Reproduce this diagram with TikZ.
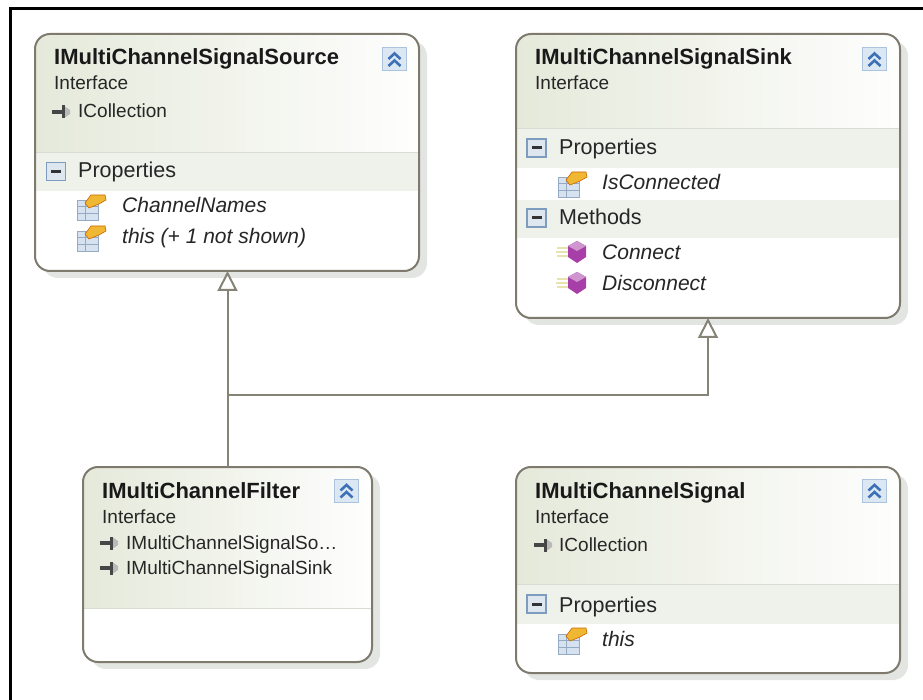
\documentclass[tikz,border=0pt]{standalone}
\usepackage{fontspec}
\setmainfont{Liberation Sans}
\usepackage{tikz}
\usetikzlibrary{arrows.meta,positioning}

\definecolor{boxc}{RGB}{126,123,110}
\definecolor{linec}{RGB}{134,131,119}
\definecolor{shadowc}{RGB}{227,229,227}
\definecolor{hdrc}{RGB}{229,233,218}
\definecolor{bandc}{RGB}{239,241,235}
\definecolor{sepc}{RGB}{216,219,210}
\definecolor{btnfill}{RGB}{219,231,243}
\definecolor{btnedge}{RGB}{170,196,222}
\definecolor{chevc}{RGB}{62,112,182}
\definecolor{minfill}{RGB}{222,231,240}
\definecolor{minedge}{RGB}{126,156,190}
\definecolor{tabfill}{RGB}{214,226,240}
\definecolor{tabline}{RGB}{150,170,195}
\definecolor{handc}{RGB}{240,184,50}
\definecolor{methc}{RGB}{168,62,168}
\definecolor{speedc}{RGB}{232,226,175}
\definecolor{implc}{RGB}{70,70,70}

\tikzset{
  boxline/.style={draw=boxc, line width=2pt, rounded corners=15pt, inner sep=0pt, outer sep=0pt},
  boxshadow/.style={fill=shadowc, rounded corners=15pt},
  header/.style={left color=hdrc, right color=white!96!hdrc},
  band/.style={fill=bandc},
  sepline/.style={draw=sepc, line width=1pt},
  title/.style={anchor=base west, inner sep=0pt, text=black!90, font=\fontsize{22}{24}\selectfont\bfseries},
  kind/.style={anchor=base west, inner sep=0pt, text=black!85, font=\fontsize{19}{22}\selectfont},
  group/.style={anchor=base west, inner sep=0pt, text=black!85, font=\fontsize{21.5}{24}\selectfont},
  member/.style={anchor=base west, inner sep=0pt, text=black!85, font=\fontsize{21}{24}\selectfont\itshape},
  implements/.style={draw=linec, line width=2pt, -{Triangle[width=20pt,length=20pt,fill=white]}},
  btncollapse/.pic={
    \fill[btnfill] (-12.5,-12) rectangle (12.5,12);
    \draw[btnedge, line width=1pt] (-12,-11.5) rectangle (12,11.5);
    \draw[chevc, line width=2.6pt] (-6,-0.5) -- (0,-6) -- (6,-0.5);
    \draw[chevc, line width=2.6pt] (-6,6.5) -- (0,1) -- (6,6.5);
  },
  minusbox/.pic={
    \fill[minfill, draw=minedge, line width=1.2pt] (-9.5,-9) rectangle (9.5,9);
    \fill[black!80] (-5,-1.5) rectangle (5,1.5);
  },
  propicon/.pic={
    \fill[tabfill, draw=tabline, line width=1pt] (-14,-6) rectangle (7,14);
    \draw[tabline, line width=1pt] (-14,0) -- (7,0) (-14,7) -- (7,7) (-6,-6) -- (-6,14);
    \fill[handc, draw=orange!80!black, line width=0.6pt] (-6,-4) -- (0,-12) -- (14,-12) -- (15,-7) -- (8,-3) -- (-2,1) -- cycle;
  },
  methicon/.pic={
    \draw[speedc, line width=2pt] (-15,-4) -- (-4,-4) (-16,0) -- (-4,0) (-15,4) -- (-4,4);
    \fill[methc] (5,-11) -- (14,-6) -- (14,5) -- (5,11) -- (-4,5) -- (-4,-6) -- cycle;
    \fill[methc!55] (5,-11) -- (14,-6) -- (5,-1) -- (-4,-6) -- cycle;
  },
  implicon/.pic={
    \draw[implc, line width=3.6pt] (-10,0) -- (1,0);
    \fill[implc] (0,-6.5) rectangle (3,6.5);
    \fill[gray!55] (3,-5.5) -- (8,-2) -- (8,2) -- (3,5.5) -- cycle;
  }
}

% shadow, white body and shaded header of one box
\newcommand{\boxback}[5]{%
  \fill[boxshadow] (#1+8,#2+7) rectangle (#3+8,#4+7);
  \begin{scope}
    \clip[rounded corners=15pt] (#1,#2) rectangle (#3,#4);
    \fill[white] (#1,#2) rectangle (#3,#4);
    \shade[header] (#1,#2) rectangle (#3,#5);
  \end{scope}
  \draw[sepline] (#1,#5) -- (#3,#5);
}

\begin{document}
\begin{tikzpicture}[x=1pt,y=-1pt]
    \useasboundingbox (0,0) rectangle (923,700);
    % frame
    \draw[line width=3pt] (10,700) -- (10,9) -- (923,9);

    % IMultiChannelSignalSource
    \boxback{35}{34}{419}{271}{153}
    \fill[band] (35,153.5) rectangle (419,191);
    \node[boxline, minimum width=384pt, minimum height=237pt, anchor=north west] (src) at (35,34) {};
    \node[title] (src-title) at (54,65) {IMultiChannelSignalSource};
    \node[kind] (src-kind) at (54,90) {Interface};
    \pic at (62,112) {implicon};
    \node[kind] (src-base) at (78,118) {ICollection};
    \pic at (56,171.5) {minusbox};
    \node[group] (src-props) at (78,178) {Properties};
    \pic at (91,207) {propicon};
    \node[member] (src-p1) at (122,213) {ChannelNames};
    \pic at (91,238) {propicon};
    \node[member] (src-p2) at (122,244) {this (+ 1 not shown)};
    \pic at (394.5,59.5) {btncollapse};

    % IMultiChannelSignalSink
    \boxback{516}{34}{900}{318}{129}
    \fill[band] (516,129.5) rectangle (900,168);
    \fill[band] (516,200) rectangle (900,238);
    \node[boxline, minimum width=384pt, minimum height=284pt, anchor=north west] (sink) at (516,34) {};
    \node[title] (sink-title) at (535,65) {IMultiChannelSignalSink};
    \node[kind] (sink-kind) at (535,90) {Interface};
    \pic at (536.5,148) {minusbox};
    \node[group] (sink-props) at (559,155) {Properties};
    \pic at (572,184) {propicon};
    \node[member] (sink-p1) at (602,190) {IsConnected};
    \pic at (536.5,218) {minusbox};
    \node[group] (sink-meths) at (559,225) {Methods};
    \pic at (572,252) {methicon};
    \node[member] (sink-m1) at (602,260) {Connect};
    \pic at (572,283) {methicon};
    \node[member] (sink-m2) at (602,291) {Disconnect};
    \pic at (874.5,59.5) {btncollapse};

    % IMultiChannelFilter
    \boxback{83}{467}{372}{662}{608}
    \node[boxline, minimum width=289pt, minimum height=195pt, anchor=north west] (filt) at (83,467) {};
    \node[title] (filt-title) at (102,498) {IMultiChannelFilter};
    \node[kind] (filt-kind) at (102,523) {Interface};
    \pic at (110,543) {implicon};
    \node[kind] (filt-base1) at (126,549) {IMultiChannelSignalSo…};
    \pic at (110,568) {implicon};
    \node[kind] (filt-base2) at (126,574) {IMultiChannelSignalSink};
    \pic at (346.5,491) {btncollapse};

    % IMultiChannelSignal
    \boxback{516}{467}{900}{673}{584}
    \fill[band] (516,584.5) rectangle (900,624);
    \node[boxline, minimum width=384pt, minimum height=206pt, anchor=north west] (sig) at (516,467) {};
    \node[title] (sig-title) at (535,498) {IMultiChannelSignal};
    \node[kind] (sig-kind) at (535,523) {Interface};
    \pic at (544,545) {implicon};
    \node[kind] (sig-base) at (559,551) {ICollection};
    \pic at (536.5,604) {minusbox};
    \node[group] (sig-props) at (559,612) {Properties};
    \pic at (572,640) {propicon};
    \node[member] (sig-p1) at (602,646) {this};
    \pic at (874.5,491) {btncollapse};

    % inheritance
    \coordinate (split) at (filt.north |- 0,395);
    \draw[implements] (filt.north) -- (filt.north |- src.south);
    \draw[implements] (split) -| (sink.south);
\end{tikzpicture}
\end{document}
